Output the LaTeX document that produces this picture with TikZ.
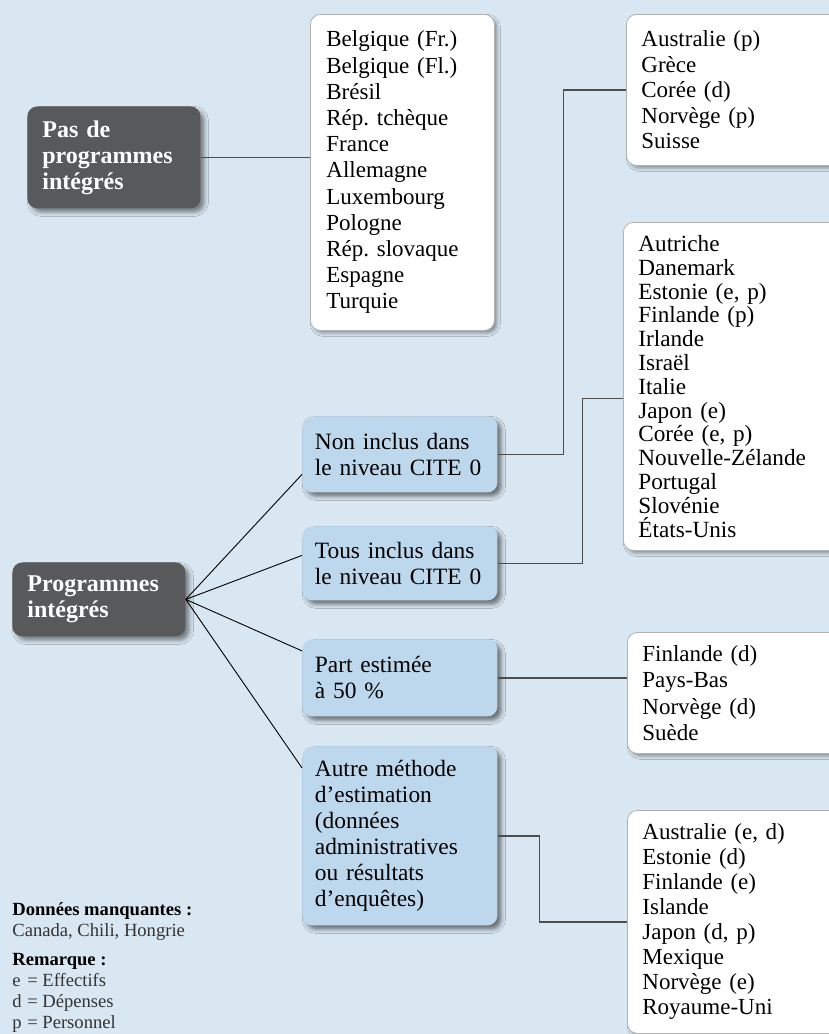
\documentclass[tikz,border=0pt]{standalone}
\usepackage{fontspec}
\setmainfont{Liberation Serif}
\frenchspacing
\usetikzlibrary{calc,shadows.blur}
\definecolor{OECDbg}{RGB}{217,231,242}
\definecolor{OECDblue}{RGB}{189,215,236}
\definecolor{OECDdark}{RGB}{88,89,91}
\definecolor{OECDline}{RGB}{77,77,77}

\begin{document}
\begin{tikzpicture}[x=0.5pt,y=-0.5pt, every node/.style={font=\fontsize{11.5pt}{13.1pt}\selectfont}, darkbox/.style={fill=OECDdark,text=white,rounded corners=5pt,anchor=north west,align=left,inner xsep=7.5pt,text width=71.5pt,font=\fontsize{12pt}{13pt}\selectfont\bfseries,blur shadow={shadow xshift=2pt,shadow yshift=-2pt,shadow blur radius=2pt,shadow opacity=45}}, bluebox/.style={fill=OECDblue,rounded corners=5pt,anchor=north west,align=left,inner xsep=6.25pt,text width=85pt,font=\fontsize{11.7pt}{13pt}\selectfont,blur shadow={shadow xshift=2pt,shadow yshift=-2pt,shadow blur radius=2pt,shadow opacity=50}}, listbox/.style={draw=black!30,fill=white,rounded corners=5pt,anchor=north west,align=left,inner xsep=7.5pt,text width=115pt,blur shadow={shadow xshift=1.5pt,shadow yshift=-1.5pt,shadow blur radius=1.5pt,shadow opacity=35}}, link/.style={draw=OECDline,line width=0.6pt}, fan/.style={draw=black,line width=0.45pt}]
\fill[OECDbg] (0,0) rectangle (829,1034);
\path[use as bounding box] (0,0) rectangle (829,1034);
\clip (0,0) rectangle (829,1034);
% left column
\node[darkbox,minimum height=51pt] (pas) at (27,106) {Pas de\\programmes\\intégrés};
\node[darkbox,minimum height=37pt] (prog) at (12,562) {Programmes\\intégrés};
% middle column
\node[bluebox,minimum height=38pt] (nonincl) at (302,416) {Non inclus dans\\le niveau CITE 0};
\node[bluebox,minimum height=37pt] (toutincl) at (302,526) {Tous inclus dans\\le niveau CITE 0};
\node[bluebox,minimum height=38.5pt] (part) at (302,639) {Part estimée\\à 50~\%};
\node[bluebox,minimum height=89.5pt] (autre) at (302,746) {Autre méthode\\d’estimation\\(données\\administratives\\ou résultats\\d’enquêtes)};
% country lists
\node[listbox,text width=76pt,inner xsep=8pt,minimum height=158pt] (liste1) at (310,14) {Belgique (Fr.)\\Belgique (Fl.)\\Brésil\\Rép. tchèque\\France\\Allemagne\\Luxembourg\\Pologne\\Rép. slovaque\\Espagne\\Turquie};
\node[listbox,minimum height=75.5pt,font=\fontsize{11.5pt}{12.75pt}\selectfont] (liste2) at (626,14) {Australie (p)\\Grèce\\Corée (d)\\Norvège (p)\\Suisse};
\node[listbox,minimum height=164pt,font=\fontsize{11.6pt}{11.9pt}\selectfont] (liste3) at (623,222) {Autriche\\Danemark\\Estonie (e, p)\\Finlande (p)\\Irlande\\Israël\\Italie\\Japon (e)\\Corée (e, p)\\Nouvelle-Zélande\\Portugal\\Slovénie\\États-Unis};
\node[listbox,minimum height=60.5pt,font=\fontsize{11.5pt}{13.25pt}\selectfont] (liste4) at (627,632) {Finlande (d)\\Pays-Bas\\Norvège (d)\\Suède};
\node[listbox,minimum height=111.5pt,font=\fontsize{11.5pt}{12.5pt}\selectfont] (liste5) at (627,810) {Australie (e, d)\\Estonie (d)\\Finlande (e)\\Islande\\Japon (d, p)\\Mexique\\Norvège (e)\\Royaume-Uni};
% connectors
\draw[link] (pas.east) -- (pas.east -| liste1.west);
\draw[link] (nonincl.east) -- ++(66,0) |- (liste2.west);
\draw[link] (toutincl.east) -- ++(85,0) |- ($(liste3.west)+(0,12)$);
\draw[link] (part.east) -- (part.east -| liste4.west);
\draw[link] (autre.east) -- ++(42,0) |- (liste5.west);
\foreach \b/\d in {nonincl/20,toutincl/-8,part/-27,autre/-68}{\draw[fan] (prog.east) -- ($(\b.west)+(0,\d)$);}
% legend
\node[anchor=north west,inner sep=0pt,align=left,text=black!80,font=\fontsize{9.3pt}{10.5pt}\selectfont] (legende) at (12,902) {\textcolor{black}{\textbf{Données manquantes :}}\\Canada, Chili, Hongrie\\[4pt]\textcolor{black}{\textbf{Remarque :}}\\\makebox[0.8em][l]{e}= Effectifs\\\makebox[0.8em][l]{d}= Dépenses\\\makebox[0.8em][l]{p}= Personnel};
\end{tikzpicture}
\end{document}
